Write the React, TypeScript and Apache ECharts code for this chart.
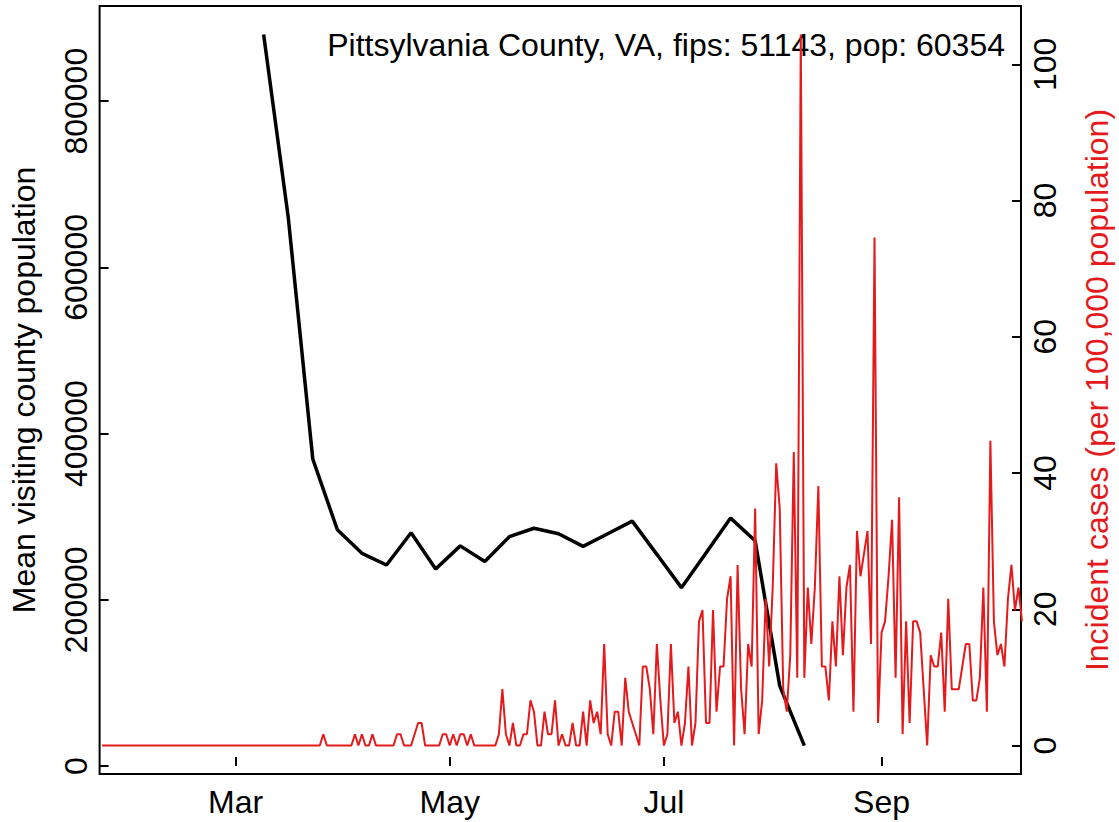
import React, { useEffect, useRef } from "react";
import * as echarts from "echarts";

const FONT = "'Liberation Sans', Arial, Helvetica, sans-serif";
const TITLE = "Pittsylvania County, VA, fips: 51143, pop: 60354";
const LEFT_NAME = "Mean visiting county population";
const RIGHT_NAME = "Incident cases (per 100,000 population)";
const RED = "#E41A1C";

// Weekly mean visiting population (black line)
const visitDates = [
  "2020-03-09", "2020-03-16", "2020-03-23", "2020-03-30", "2020-04-06", "2020-04-13",
  "2020-04-20", "2020-04-27", "2020-05-04", "2020-05-11", "2020-05-18", "2020-05-25",
  "2020-06-01", "2020-06-08", "2020-06-15", "2020-06-22", "2020-06-29", "2020-07-06",
  "2020-07-13", "2020-07-20", "2020-07-27", "2020-08-03", "2020-08-10",
];
const visitValues = [
  880300, 660700, 369400, 284300, 255900, 241900,
  280700, 237000, 264900, 246100, 275900, 286100,
  279500, 264300, 279500, 294700, 254700, 214600,
  256400, 298300, 271100, 96400, 24600,
];

// Daily incident cases per 100,000 (red line), one value per day starting at caseStart
const caseStart = "2020-01-23";
const caseValues = [
  0, 0, 0, 0, 0, 0, 0, 0, 0, 0,
  0, 0, 0, 0, 0, 0, 0, 0, 0, 0,
  0, 0, 0, 0, 0, 0, 0, 0, 0, 0,
  0, 0, 0, 0, 0, 0, 0, 0, 0, 0,
  0, 0, 0, 0, 0, 0, 0, 0, 0, 0,
  0, 0, 0, 0, 0, 0, 0, 0, 0, 0,
  0, 0, 0,
  1.66, 0, 0, 0, 0, 0, 0, 0, 0, 1.66,
  0, 1.66, 0, 0, 1.66, 0, 0, 0, 0, 0,
  0, 1.66, 1.66, 0, 0, 0, 1.66, 3.31, 3.31, 0,
  0, 0, 0, 0, 1.66, 1.66, 0, 1.66, 0, 1.66,
  1.66, 0, 1.66, 0, 0, 0, 0, 0, 0, 0,
  1.66, 8.28, 1.66, 0, 3.31, 0, 0, 1.66, 1.66, 6.63,
  4.97, 0, 0, 4.97, 1.66, 1.66, 6.63, 0, 1.66, 0,
  0, 3.31, 0, 0, 4.97, 0, 6.63, 3.31, 4.97, 1.66,
  14.91, 1.66, 0, 4.97, 4.97, 0, 9.94, 4.97, 3.31, 1.66,
  0, 11.6, 11.6, 8.28, 1.66, 14.91, 6.63, 0, 1.66, 14.91,
  3.31, 4.97, 0, 3.31, 11.6, 0, 3.31, 18.23, 19.88, 3.31,
  3.31, 19.88, 4.97, 11.6, 11.6, 21.54, 24.85, 0, 26.51, 8.28,
  1.66, 14.91, 11.6, 34.79, 1.66, 6.63, 21.54, 11.6, 23.2, 41.42,
  34.79, 8.28, 4.97, 13.26, 43.08, 9.94, 104.38, 9.94, 23.2, 14.91,
  23.2, 38.11, 11.6, 11.6, 6.63, 18.23, 11.6, 24.85, 13.26, 23.2,
  26.51, 4.97, 31.48, 24.85, 28.17, 31.48, 14.91, 74.56, 3.31, 16.57,
  18.23, 24.85, 33.14, 9.94, 36.45, 1.66, 18.23, 3.31, 18.23, 18.23,
  16.57, 8.28, 0, 13.26, 11.6, 11.6, 16.57, 4.97, 21.54, 8.28,
  8.28, 8.28, 11.6, 14.91, 14.91, 6.63, 6.63, 9.94, 23.2, 4.97,
  44.74, 18.23, 13.26, 14.91, 11.6, 21.54, 26.51, 19.88, 23.2, 18.23,
];

const monthTicks = ["2020-03-01", "2020-05-01", "2020-07-01", "2020-09-01"];
const monthNames = ["Jan", "Feb", "Mar", "Apr", "May", "Jun", "Jul", "Aug", "Sep", "Oct", "Nov", "Dec"];
const leftTicks = [0, 200000, 400000, 600000, 800000];
const rightTicks = [0, 20, 40, 60, 80, 100];

function toTime(s: string): number {
  const [y, m, d] = s.split("-").map(Number);
  return new Date(y, m - 1, d).getTime();
}

export default function App() {
  const ref = useRef<HTMLDivElement>(null);

  useEffect(() => {
    if (!ref.current) return;
    const chart = echarts.init(ref.current, null, { renderer: "svg" });

    const visitData = visitDates.map((d, i) => [toTime(d), visitValues[i]]);
    const start = toTime(caseStart);
    const caseData = caseValues.map((v, i) => {
      const dt = new Date(start);
      dt.setDate(dt.getDate() + i);
      return [dt.getTime(), v];
    });

    // R-style 4% extension of the axis ranges
    const xLo = toTime("2020-02-01");
    const xHi = toTime("2020-10-01");
    const xPad = (xHi - xLo) * 0.04;
    const vMin = Math.min(...visitValues);
    const vMax = Math.max(...visitValues);
    const vPad = (vMax - vMin) * 0.04;
    const cMax = Math.max(...caseValues);
    const cPad = cMax * 0.04;

    const tickStyle = { color: "#000", width: 2 };
    const labelBase = { color: "#000", fontSize: 32, fontFamily: FONT };
    const xTickVals = monthTicks.map(toTime);

    chart.setOption({
      animation: false,
      backgroundColor: "#fff",
      textStyle: { fontFamily: FONT },
      grid: {
        left: 99.6,
        right: 98,
        top: 6,
        bottom: 48,
        show: true,
        borderColor: "#000",
        borderWidth: 2,
        backgroundColor: "transparent",
      },
      xAxis: {
        type: "value",
        min: xLo - xPad,
        max: xHi + xPad,
        axisLine: { show: false },
        splitLine: { show: false },
        axisTick: {
          show: true,
          inside: true,
          length: 9,
          lineStyle: tickStyle,
          customValues: xTickVals,
        },
        axisLabel: {
          ...labelBase,
          margin: 12,
          customValues: xTickVals,
          formatter: (v: number) => monthNames[new Date(v).getMonth()],
        },
      },
      yAxis: [
        {
          type: "value",
          position: "left",
          min: vMin - vPad,
          max: vMax + vPad,
          axisLine: { show: false },
          splitLine: { show: false },
          axisTick: { show: true, inside: true, length: 9, lineStyle: tickStyle, customValues: leftTicks },
          axisLabel: {
            ...labelBase,
            rotate: 90,
            margin: 8,
            customValues: leftTicks,
            formatter: (v: number) => String(v),
          },
        },
        {
          type: "value",
          position: "right",
          min: -cPad,
          max: cMax + cPad,
          axisLine: { show: false },
          splitLine: { show: false },
          axisTick: { show: true, inside: true, length: 9, lineStyle: tickStyle, customValues: rightTicks },
          axisLabel: {
            ...labelBase,
            rotate: 90,
            margin: 8,
            customValues: rightTicks,
            formatter: (v: number) => String(v),
          },
        },
      ],
      series: [
        {
          type: "line",
          xAxisIndex: 0,
          yAxisIndex: 0,
          data: visitData,
          symbol: "none",
          lineStyle: { color: "#000", width: 3.5 },
          itemStyle: { color: "#000" },
          z: 2,
        },
        {
          type: "line",
          xAxisIndex: 0,
          yAxisIndex: 1,
          data: caseData,
          symbol: "none",
          clip: true,
          lineStyle: { color: RED, width: 2 },
          itemStyle: { color: RED },
          z: 3,
        },
      ],
      graphic: [
        {
          type: "text",
          x: 1005,
          y: 44.5,
          style: {
            text: TITLE,
            fill: "#000",
            font: `32px ${FONT}`,
            align: "right",
            verticalAlign: "middle",
          },
        },
        {
          type: "text",
          x: 24,
          y: 390,
          rotation: Math.PI / 2,
          style: {
            text: LEFT_NAME,
            fill: "#000",
            font: `32px ${FONT}`,
            align: "center",
            verticalAlign: "middle",
          },
        },
        {
          type: "text",
          x: 1097,
          y: 390,
          rotation: Math.PI / 2,
          style: {
            text: RIGHT_NAME,
            fill: RED,
            font: `32px ${FONT}`,
            align: "center",
            verticalAlign: "middle",
          },
        },
      ],
    });

    return () => chart.dispose();
  }, []);

  return (
    <div
      ref={ref}
      style={{ position: "fixed", left: 0, top: 0, width: 1119, height: 822, background: "#fff" }}
    />
  );
}
